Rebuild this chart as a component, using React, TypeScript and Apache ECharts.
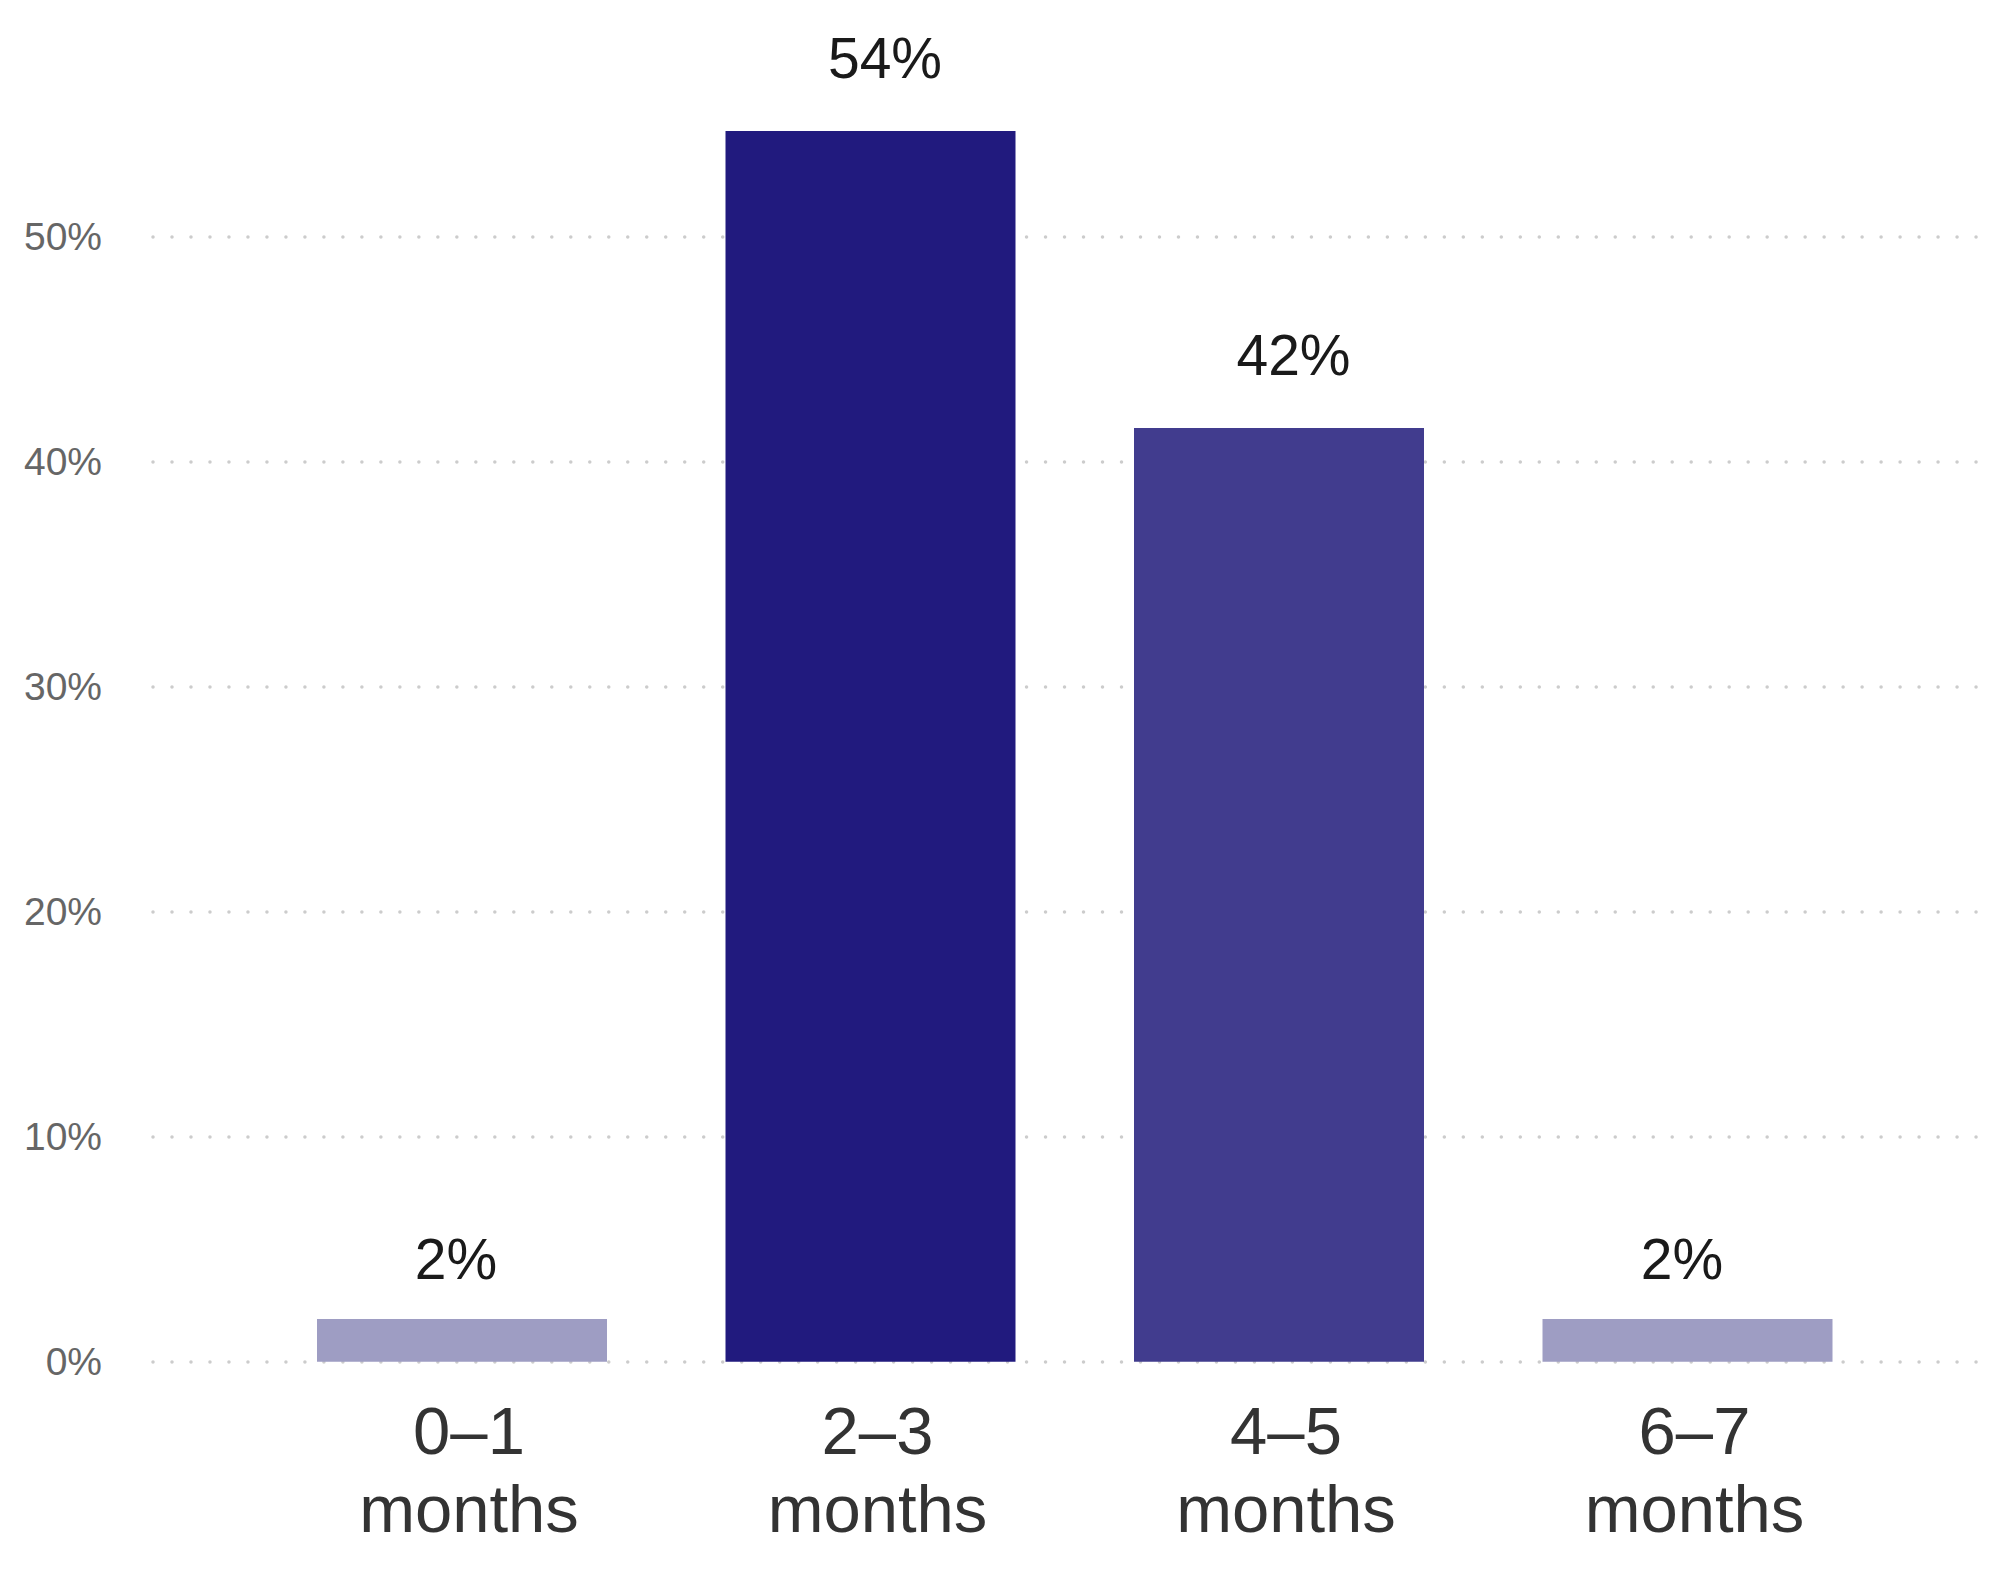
import React, { useEffect, useRef } from "react";
import * as echarts from "echarts";

const ranges = ["0–1", "2–3", "4–5", "6–7"];
const unit = "months";
const values = [1.9, 54.7, 41.5, 1.9];
const valueLabels = ["2%", "54%", "42%", "2%"];
const barColors = ["#9E9DC3", "#211A7E", "#413C8E", "#9E9DC3"];
const labelDistances = [31, 44, 44, 31];
const labelShifts = [-6, 14.5, 14.5, -5.5];
const yTicks = { min: 0, max: 60, interval: 10 };

const FONT = "'Liberation Sans', Arial, Helvetica, sans-serif";

export default function App() {
  const ref = useRef<HTMLDivElement>(null);
  useEffect(() => {
    if (!ref.current) return;
    const chart = echarts.init(ref.current, null, { renderer: "svg" });
    const categories = ranges.map((r) => `${r}\n${unit}`);
    const top = 11.7;
    const bottom = 231.3;
    chart.setOption({
      animation: false,
      backgroundColor: "#ffffff",
      grid: [
        { left: 153, right: 1, top, bottom },
        { left: 257.75, right: 104.25, top, bottom },
      ],
      xAxis: [
        { type: "value", gridIndex: 0, show: false, min: 0, max: 1 },
        {
          type: "category",
          gridIndex: 1,
          data: categories,
          axisLine: { show: false },
          axisTick: { show: false },
          axisLabel: {
            interval: 0,
            margin: 30,
            fontSize: 67,
            lineHeight: 78,
            color: "#333333",
            fontFamily: FONT,
            padding: [0, 0, 0, 14],
          },
        },
      ],
      yAxis: [
        {
          type: "value",
          gridIndex: 0,
          min: yTicks.min,
          max: yTicks.max,
          interval: yTicks.interval,
          axisLine: { show: false },
          axisTick: { show: false },
          axisLabel: {
            formatter: "{value}%",
            fontSize: 39,
            color: "#666666",
            fontFamily: FONT,
            margin: 51,
            showMaxLabel: false,
            padding: [0, 0, 12, 0],
          },
          splitLine: {
            show: true,
            showMaxLine: false,
            lineStyle: {
              color: "#cccccc",
              width: 3.5,
              type: [0.01, 18.98],
              cap: "round",
            },
          },
        },
        {
          type: "value",
          gridIndex: 1,
          min: yTicks.min,
          max: yTicks.max,
          interval: yTicks.interval,
          show: false,
          splitLine: { show: false },
        },
      ],
      series: [
        {
          type: "bar",
          xAxisIndex: 1,
          yAxisIndex: 1,
          barWidth: 290,
          data: values.map((v, i) => ({
            value: v,
            itemStyle: { color: barColors[i] },
            label: {
              show: true,
              position: "top",
              distance: labelDistances[i],
              offset: [labelShifts[i], 0],
              formatter: valueLabels[i],
              fontSize: 57,
              color: "#1a1a1a",
              fontFamily: FONT,
            },
          })),
        },
      ],
    });
    return () => chart.dispose();
  }, []);
  return (
    <div
      ref={ref}
      style={{ position: "absolute", left: 0, top: 0, width: 1996, height: 1593 }}
    />
  );
}
